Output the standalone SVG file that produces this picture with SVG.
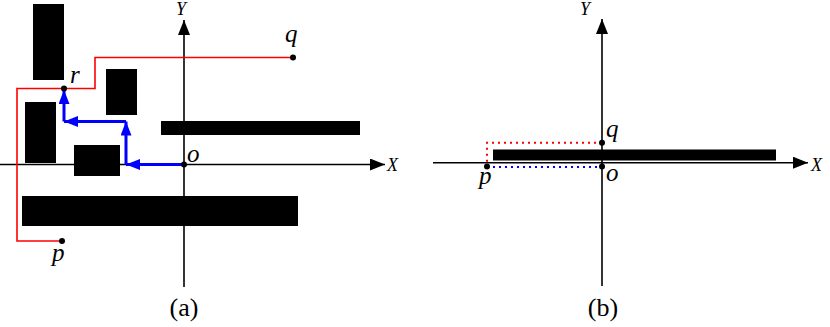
<svg xmlns="http://www.w3.org/2000/svg" width="830" height="327" viewBox="0 0 830 327">
<style>
.ax{stroke:#000;stroke-width:1.6;fill:none}
.obs{fill:#000}
.red{stroke:#ff0000;stroke-width:1.6;fill:none}
.blue{stroke:#0000ff;stroke-width:3;fill:none}
.rdot{stroke:#ff0000;stroke-width:2;stroke-dasharray:2 4;fill:none}
.bdot{stroke:#0000ff;stroke-width:2;stroke-dasharray:2 4;fill:none}
.pt{fill:#000}
</style>
<defs>
<marker id="ah" markerUnits="userSpaceOnUse" markerWidth="16" markerHeight="12" refX="15" refY="6" orient="auto">
<path d="M0,0 L15,6 L0,12 Z" fill="#000"/>
</marker>
<marker id="bh" markerUnits="userSpaceOnUse" markerWidth="15" markerHeight="11" refX="14" refY="5.5" orient="auto">
<path d="M0,0 L14,5.5 L0,11 Z" fill="#0000ff"/>
</marker>
</defs>

<g id="panel-a">
<g id="axes-a">
<line class="ax" x1="0" y1="164.5" x2="385" y2="164.5" marker-end="url(#ah)"/>
<line class="ax" x1="184" y1="287" x2="184" y2="20" marker-end="url(#ah)"/>
<text x="176" y="15" font-family="Liberation Serif, DejaVu Serif, serif" font-style="italic" font-size="18">Y</text>
<text x="387" y="171" font-family="Liberation Serif, DejaVu Serif, serif" font-style="italic" font-size="18">X</text>
</g>
<g id="obstacles-a">
<rect class="obs" x="33" y="4" width="31" height="76"/>
<rect class="obs" x="25" y="102" width="31" height="61"/>
<rect class="obs" x="106" y="69" width="31" height="46"/>
<rect class="obs" x="74" y="145" width="46" height="31"/>
<rect class="obs" x="161" y="121" width="199" height="14"/>
<rect class="obs" x="22" y="196" width="276" height="30"/>
</g>
<g id="connectors-a">
<polyline class="red" points="62,241 17,241 17,88.5 95,88.5 95,57.5 293,57.5"/>
<line class="blue" x1="184" y1="164.5" x2="126" y2="164.5" marker-end="url(#bh)"/>
<line class="blue" x1="126" y1="164.5" x2="126" y2="121.5" marker-end="url(#bh)"/>
<line class="blue" x1="126" y1="121.5" x2="64" y2="121.5" marker-end="url(#bh)"/>
<line class="blue" x1="64" y1="121.5" x2="64" y2="90" marker-end="url(#bh)"/>
</g>
<g id="node-o-a"><circle class="pt" cx="184" cy="164.5" r="3"/><text x="187" y="162" font-family="Liberation Serif, DejaVu Serif, serif" font-style="italic" font-size="25">o</text></g>
<g id="node-r"><circle class="pt" cx="64" cy="88.5" r="3"/><text x="70" y="83" font-family="Liberation Serif, DejaVu Serif, serif" font-style="italic" font-size="25">r</text></g>
<g id="node-q-a"><circle class="pt" cx="293" cy="57.5" r="3"/><text x="285" y="42" font-family="Liberation Serif, DejaVu Serif, serif" font-style="italic" font-size="25">q</text></g>
<g id="node-p-a"><circle class="pt" cx="62" cy="241" r="3"/><text x="52" y="261" font-family="Liberation Serif, DejaVu Serif, serif" font-style="italic" font-size="25">p</text></g>
<text x="184" y="316" text-anchor="middle" font-family="Liberation Serif, DejaVu Serif, serif" font-size="26">(a)</text>
</g>

<g id="panel-b">
<g id="axes-b">
<line class="ax" x1="433" y1="162.7" x2="808" y2="162.7" marker-end="url(#ah)"/>
<line class="ax" x1="602" y1="286" x2="602" y2="19" marker-end="url(#ah)"/>
<text x="580" y="15" font-family="Liberation Serif, DejaVu Serif, serif" font-style="italic" font-size="18">Y</text>
<text x="811" y="171" font-family="Liberation Serif, DejaVu Serif, serif" font-style="italic" font-size="18">X</text>
</g>
<g id="obstacles-b">
<rect class="obs" x="493" y="149.5" width="283" height="11"/>
</g>
<g id="connectors-b">
<polyline class="rdot" points="602,142.7 487,142.7 487,162"/>
<line class="bdot" x1="487" y1="167" x2="602" y2="167"/>
</g>
<g id="node-q-b"><circle class="pt" cx="602" cy="142.7" r="3"/><text x="606" y="137" font-family="Liberation Serif, DejaVu Serif, serif" font-style="italic" font-size="25">q</text></g>
<g id="node-p-b"><circle class="pt" cx="487" cy="166.5" r="3"/><text x="479" y="184" font-family="Liberation Serif, DejaVu Serif, serif" font-style="italic" font-size="25">p</text></g>
<g id="node-o-b"><circle class="pt" cx="602" cy="166.5" r="3"/><text x="606" y="181" font-family="Liberation Serif, DejaVu Serif, serif" font-style="italic" font-size="25">o</text></g>
<text x="603" y="316" text-anchor="middle" font-family="Liberation Serif, DejaVu Serif, serif" font-size="26">(b)</text>
</g>
</svg>
